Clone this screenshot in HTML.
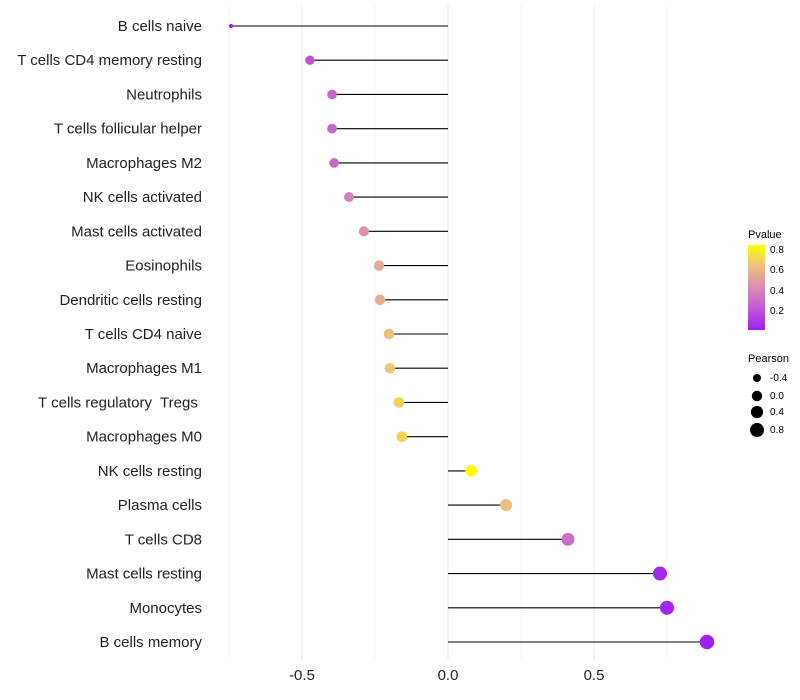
<!DOCTYPE html>
<html><head><meta charset="utf-8"><style>
body{margin:0;background:#fff;font-family:"Liberation Sans",sans-serif}
text{white-space:pre}
</style></head><body>
<svg id="chart" width="800" height="700" style="display:block">
<defs>
<linearGradient id="pg" x1="0" y1="1" x2="0" y2="0">
<stop offset="0" stop-color="#a020f0"/><stop offset="0.25" stop-color="#c257d8"/>
<stop offset="0.5" stop-color="#d98db0"/><stop offset="0.75" stop-color="#edbf80"/>
<stop offset="1" stop-color="#ffff00"/></linearGradient>
</defs>
<g id="grid"></g><g id="marks"></g><g id="labels"></g>
<g font-size="10">
<text x="748" y="238" font-size="11">Pvalue</text>
<rect x="748" y="245" width="17" height="85" fill="url(#pg)"/>
<text x="770" y="253">0.8</text><text x="770" y="273">0.6</text><text x="770" y="294">0.4</text><text x="770" y="314">0.2</text>
</g>
<g font-size="10">
<text x="748" y="362" font-size="11">Pearson</text>
<circle cx="757" cy="378" r="4"/><text x="770" y="381">-0.4</text>
<circle cx="757" cy="396" r="5.2"/><text x="770" y="399">0.0</text>
<circle cx="757" cy="412" r="6.1"/><text x="770" y="415">0.4</text>
<circle cx="757" cy="430" r="7"/><text x="770" y="433">0.8</text>
</g>
</svg>
<script>
const categories=["B cells naive","T cells CD4 memory resting","Neutrophils","T cells follicular helper","Macrophages M2","NK cells activated","Mast cells activated","Eosinophils","Dendritic cells resting","T cells CD4 naive","Macrophages M1","T cells regulatory  Tregs ","Macrophages M0","NK cells resting","Plasma cells","T cells CD8","Mast cells resting","Monocytes","B cells memory"];
const pearson=[-0.743,-0.473,-0.397,-0.397,-0.39,-0.339,-0.288,-0.236,-0.233,-0.202,-0.199,-0.168,-0.158,0.079,0.199,0.411,0.726,0.75,0.887];
const pvalue=[0.0,0.2,0.27,0.27,0.28,0.36,0.45,0.55,0.56,0.64,0.65,0.7,0.7,0.84,0.63,0.3,0.03,0.02,0.0];
const xTicks=[-0.5,0,0.5];
const xMinor=[-0.75,-0.25,0.25,0.75];
const NS="http://www.w3.org/2000/svg";
const xs=v=>448+v*292;
const ys=i=>26+i*(616/18);
const stops=[[160,32,240],[194,87,216],[217,141,176],[237,191,128],[255,255,0]];
function col(p){let t=Math.max(0,Math.min(1,p/0.84))*4;let i=Math.min(3,Math.floor(t)),f=t-i;const a=stops[i],b=stops[i+1];return`rgb(${a.map((c,k)=>Math.round(c+(b[k]-c)*f)).join(',')})`;}
const sz=[[-0.75,2],[-0.47,4.7],[0,5.7],[0.89,7.3]];
function rad(v){if(v<=sz[0][0])return sz[0][1];for(let i=0;i<sz.length-1;i++){const a=sz[i],b=sz[i+1];if(v<=b[0])return a[1]+(b[1]-a[1])*(v-a[0])/(b[0]-a[0]);}return sz[sz.length-1][1];}
function mk(t,at,parent){const e=document.createElementNS(NS,t);for(const k in at)e.setAttribute(k,at[k]);document.getElementById(parent).appendChild(e);return e;}
xMinor.forEach(v=>{const l=mk('line',{x1:xs(v),x2:xs(v),y1:5,y2:660,stroke:'#f4f4f4','stroke-width':1},'grid');

});
xTicks.forEach(v=>{const l=mk('line',{x1:xs(v),x2:xs(v),y1:5,y2:660,stroke:'#ebebeb','stroke-width':1},'grid');


const t=mk('text',{x:xs(v),y:680,'text-anchor':'middle','font-size':15,fill:'#222'},'labels');t.textContent=v===0?'0.0':String(v);

});
categories.forEach((c,i)=>{const y=ys(i),v=pearson[i];
const l=mk('line',{x1:xs(0),x2:xs(v),y1:y,y2:y,stroke:'#000','stroke-width':1.1},'marks');


const p=mk('circle',{cx:xs(v),cy:y,r:rad(v),fill:col(pvalue[i])},'marks');


const t=mk('text',{x:202,y:y+5,'text-anchor':'end','font-size':15,fill:'#222'},'labels');t.textContent=c;

});
</script>
</body></html>
